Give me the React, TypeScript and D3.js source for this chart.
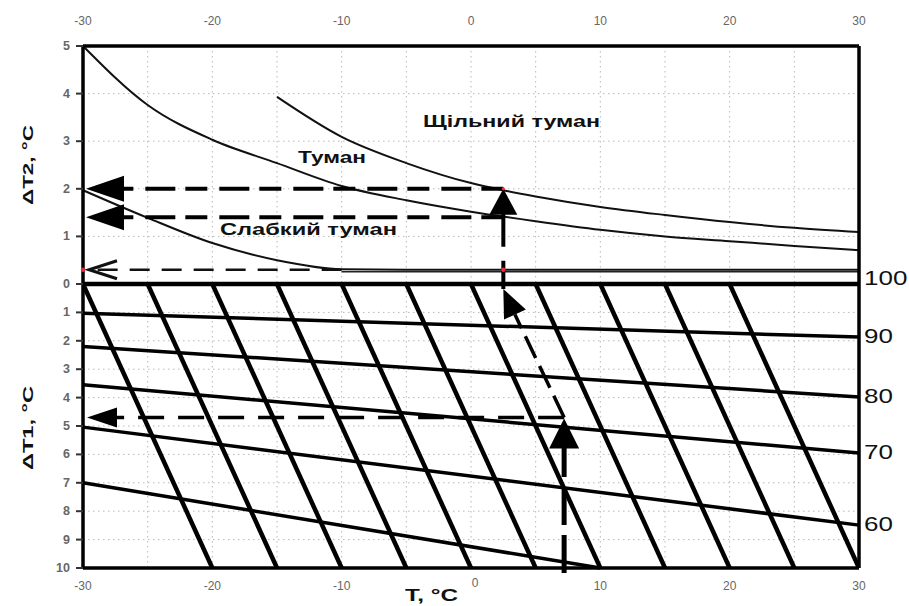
import React from "react";
import * as d3 from "d3";

// Axis ticks
const tempTicks = [-30, -20, -10, 0, 10, 20, 30];
const gridTemps = [-25, -20, -15, -10, -5, 0, 5, 10, 15, 20, 25];
const dt2Ticks = [0, 1, 2, 3, 4, 5];
const dt1Ticks = [1, 2, 3, 4, 5, 6, 7, 8, 9, 10];

// Upper panel: fog-density boundaries, ΔT2 vs T
const denseFogT = [-15, -10, -5, 0, 2.5, 5, 10, 15, 20, 25, 30];
const denseFogDT2 = [3.93, 3.09, 2.54, 2.12, 1.97, 1.84, 1.62, 1.45, 1.3, 1.18, 1.09];
const fogT = [-30, -25, -20, -15, -10, -5, 0, 5, 10, 15, 20, 25, 30];
const fogDT2 = [5.0, 3.76, 3.03, 2.54, 2.06, 1.76, 1.52, 1.32, 1.14, 1.0, 0.9, 0.8, 0.71];
const lightFogT = [-30, -25, -20, -15, -10, -5, 0, 10, 20, 30];
const lightFogDT2 = [1.97, 1.39, 0.86, 0.5, 0.31, 0.3, 0.3, 0.3, 0.3, 0.3];

// Lower panel: relative humidity lines (start at T=-30)
const rhLevels = [100, 90, 80, 70, 60, 50];
const rhStartDT1 = [0, 1.03, 2.2, 3.55, 5.04, 7.0];
const rhEndT = [30, 30, 30, 30, 30, 10];
const rhEndDT1 = [0, 1.87, 3.98, 5.95, 8.49, 10];
const rhLabelled = [100, 90, 80, 70, 60];

// Lower panel: slanted lines, T rises by 10 over ΔT1 0..10
const slantStartT = [-30, -25, -20, -15, -10, -5, 0, 5, 10, 15, 20];

// Worked example
const exampleT = 7.2;
const exampleDT1 = 4.7;
const readDT2 = [2.0, 1.4];
const thresholdDT2 = 0.3;
const thresholdFromT = -10;

const W = 909;
const H = 606;

const x = d3.scaleLinear().domain([-30, 30]).range([83, 859]);
const yTop = d3.scaleLinear().domain([0, 5]).range([284, 46]);
const yBot = d3.scaleLinear().domain([0, 10]).range([284, 568]);

const FONT = "'Liberation Sans', Arial, sans-serif";

function arrow(tx: number, ty: number, dx: number, dy: number, len: number, hw: number) {
  const n = Math.hypot(dx, dy);
  const ux = dx / n;
  const uy = dy / n;
  const bx = tx - ux * len;
  const by = ty - uy * len;
  const px = -uy;
  const py = ux;
  return `${tx},${ty} ${bx + px * hw},${by + py * hw} ${bx - px * hw},${by - py * hw}`;
}

export default function App() {
  const lineTop = d3
    .line<[number, number]>()
    .x((d) => x(d[0]))
    .y((d) => yTop(d[1]))
    .curve(d3.curveMonotoneX);

  const dense = denseFogT.map((t, i) => [t, denseFogDT2[i]] as [number, number]);
  const fog = fogT.map((t, i) => [t, fogDT2[i]] as [number, number]);
  const light = lightFogT.map((t, i) => [t, lightFogDT2[i]] as [number, number]);

  const dewT = exampleT - exampleDT1;
  const xDew = x(dewT);
  const xEx = x(exampleT);
  const yEx = yBot(exampleDT1);

  // slanted arrow geometry
  const sdx = xDew - xEx;
  const sdy = yBot(0) - yEx;
  const sn = Math.hypot(sdx, sdy);
  const sTipX = xDew;
  const sTipY = yBot(0) + 5;
  const sLen = 28;
  const sBaseX = sTipX - (sdx / sn) * sLen;
  const sBaseY = sTipY - (sdy / sn) * sLen;

  return (
    <svg
      width={W}
      height={H}
      style={{ position: "absolute", left: 0, top: 0, background: "#fff" }}
      fontFamily={FONT}
    >
      <rect x={0} y={0} width={W} height={H} fill="#fff" />

      {/* dotted grid */}
      <g stroke="#b8b8b8" strokeWidth={1} strokeDasharray="1.5 3.5">
        {gridTemps.map((t) => (
          <line key={"gv" + t} x1={x(t)} x2={x(t)} y1={yTop(5)} y2={yBot(10)} />
        ))}
        {dt2Ticks.slice(1, 5).map((v) => (
          <line key={"gt" + v} x1={x(-30)} x2={x(30)} y1={yTop(v)} y2={yTop(v)} />
        ))}
        {dt1Ticks.slice(0, 9).map((v) => (
          <line key={"gb" + v} x1={x(-30)} x2={x(30)} y1={yBot(v)} y2={yBot(v)} />
        ))}
      </g>

      {/* upper panel curves */}
      <g fill="none" stroke="#111" strokeWidth={2}>
        <path d={lineTop(dense) || ""} />
        <path d={lineTop(fog) || ""} />
        <path d={lineTop(light) || ""} />
      </g>
      <line
        x1={x(thresholdFromT)}
        x2={x(30)}
        y1={yTop(thresholdDT2) + 2}
        y2={yTop(thresholdDT2) + 2}
        stroke="#222"
        strokeWidth={1.5}
      />

      {/* slanted lines */}
      <defs>
        <clipPath id="lower">
          <rect x={x(-30)} y={yBot(0)} width={x(30) - x(-30)} height={yBot(10) - yBot(0)} />
        </clipPath>
      </defs>
      <g stroke="#000" strokeWidth={4.5} clipPath="url(#lower)">
        {slantStartT.map((t) => (
          <line key={"s" + t} x1={x(t)} y1={yBot(0)} x2={x(t + 10)} y2={yBot(10)} />
        ))}
      </g>

      {/* relative humidity lines */}
      <g stroke="#000" strokeWidth={3.5}>
        {rhLevels.map((rh, i) => (
          <line
            key={"rh" + rh}
            x1={x(-30)}
            y1={yBot(rhStartDT1[i])}
            x2={x(rhEndT[i])}
            y2={yBot(rhEndDT1[i])}
          />
        ))}
      </g>

      {/* frame */}
      <g stroke="#000" fill="none">
        <line x1={x(-30)} x2={x(30)} y1={yTop(5)} y2={yTop(5)} strokeWidth={3.5} />
        <line x1={x(-30)} x2={x(30)} y1={yBot(0)} y2={yBot(0)} strokeWidth={4.5} />
        <line x1={x(-30)} x2={x(30)} y1={yBot(10)} y2={yBot(10)} strokeWidth={3.5} />
        <line x1={x(-30)} x2={x(-30)} y1={yTop(5)} y2={yBot(10)} strokeWidth={3.5} />
        <line x1={x(30)} x2={x(30)} y1={yTop(5)} y2={yBot(10)} strokeWidth={3.5} />
      </g>

      {/* left ticks */}
      <g stroke="#333" strokeWidth={2}>
        {dt2Ticks.map((v) => (
          <line key={"tt" + v} x1={x(-30) - 7} x2={x(-30)} y1={yTop(v)} y2={yTop(v)} />
        ))}
        {dt1Ticks.map((v) => (
          <line key={"tb" + v} x1={x(-30) - 7} x2={x(-30)} y1={yBot(v)} y2={yBot(v)} />
        ))}
      </g>

      {/* worked example: read-off in lower panel */}
      <line
        x1={xEx}
        x2={xEx}
        y1={yBot(10) + 5}
        y2={yEx + 28}
        stroke="#000"
        strokeWidth={5}
        strokeDasharray="38 10"
      />
      <polygon points={arrow(xEx, yEx + 1, 0, -1, 30, 15)} fill="#000" />
      <line
        x1={xEx}
        x2={x(-30) + 28}
        y1={yEx}
        y2={yEx}
        stroke="#000"
        strokeWidth={3.5}
        strokeDasharray="26 14"
      />
      <polygon points={arrow(x(-30) + 4, yEx, -1, 0, 30, 10)} fill="#000" />
      <line
        x1={xEx}
        y1={yEx}
        x2={sBaseX}
        y2={sBaseY}
        stroke="#000"
        strokeWidth={3.5}
        strokeDasharray="24 9"
      />
      <polygon points={arrow(sTipX, sTipY, sdx, sdy, sLen, 12)} fill="#000" />

      {/* worked example: upper panel */}
      <line
        x1={xDew}
        x2={xDew}
        y1={yTop(readDT2[0]) + 24}
        y2={yBot(0) + 5}
        stroke="#000"
        strokeWidth={4}
        strokeDasharray="34 14 40"
      />
      <polygon points={arrow(xDew, yTop(readDT2[0]), 0, -1, 26, 14)} fill="#000" />
      {readDT2.map((v) => (
        <g key={"rd" + v}>
          <line
            x1={xDew}
            x2={x(-30) + 36}
            y1={yTop(v)}
            y2={yTop(v)}
            stroke="#000"
            strokeWidth={4}
            strokeDasharray="22 10 30 12"
          />
          <polygon points={arrow(x(-30) + 3, yTop(v), -1, 0, 38, 13)} fill="#000" />
        </g>
      ))}
      <line
        x1={x(thresholdFromT)}
        x2={x(-30) + 10}
        y1={yTop(thresholdDT2)}
        y2={yTop(thresholdDT2)}
        stroke="#111"
        strokeWidth={2.5}
        strokeDasharray="20 12"
      />
      <polyline
        points={`${x(-30) + 34},${yTop(thresholdDT2) - 9} ${x(-30) + 6},${yTop(thresholdDT2)} ${
          x(-30) + 34
        },${yTop(thresholdDT2) + 9}`}
        fill="none"
        stroke="#111"
        strokeWidth={3}
      />
      <g fill="#e8303a">
        <circle cx={x(-30)} cy={yTop(thresholdDT2)} r={2.2} />
        <circle cx={xDew} cy={yTop(thresholdDT2)} r={2.2} />
        <circle cx={xDew} cy={yTop(readDT2[0])} r={1.6} />
      </g>

      {/* region labels */}
      <g fontWeight="bold" fontSize={17} fill="#111">
        <text x={423} y={127} textLength={177} lengthAdjust="spacingAndGlyphs">
          Щільний туман
        </text>
        <text x={298} y={163} textLength={68} lengthAdjust="spacingAndGlyphs">
          Туман
        </text>
        <text x={220} y={235} textLength={177} lengthAdjust="spacingAndGlyphs">
          Слабкий туман
        </text>
      </g>

      {/* top and bottom tick labels */}
      <g fontSize={12} fill="#666" textAnchor="middle">
        {tempTicks.map((t) => (
          <text key={"lt" + t} x={x(t)} y={25}>
            {t}
          </text>
        ))}
        {tempTicks.map((t) => (
          <text key={"lb" + t} x={x(t) + (t === 0 ? 4 : 0)} y={t === 0 ? 587 : 590}>
            {t}
          </text>
        ))}
      </g>

      {/* left tick labels */}
      <g fontSize={12.5} fontWeight="bold" fill="#666" textAnchor="end">
        {dt2Ticks.map((v) => (
          <text key={"l2" + v} x={70} y={yTop(v) + 4}>
            {v}
          </text>
        ))}
        {dt1Ticks.map((v) => (
          <text key={"l1" + v} x={70} y={yBot(v) + 4}>
            {v}
          </text>
        ))}
      </g>

      {/* right humidity labels */}
      <g fontSize={20} fill="#111">
        {rhLabelled.map((rh) => {
          const i = rhLevels.indexOf(rh);
          const yy = yBot(rhEndDT1[i]) + (rh === 100 ? -6 : -1);
          return (
            <text key={"rl" + rh} transform={`translate(864, ${yy + 7}) scale(1.3, 1)`}>
              {rh}
            </text>
          );
        })}
      </g>

      {/* axis titles */}
      <g fontWeight="bold" fill="#111">
        <text
          transform="translate(33, 165) rotate(-90)"
          textAnchor="middle"
          fontSize={15}
          textLength={80}
          lengthAdjust="spacingAndGlyphs"
        >
          ΔT2, °C
        </text>
        <text
          transform="translate(33, 428) rotate(-90)"
          textAnchor="middle"
          fontSize={15}
          textLength={84}
          lengthAdjust="spacingAndGlyphs"
        >
          ΔT1, °C
        </text>
        <text x={405} y={601} fontSize={17} textLength={53} lengthAdjust="spacingAndGlyphs">
          T, °C
        </text>
      </g>
    </svg>
  );
}
